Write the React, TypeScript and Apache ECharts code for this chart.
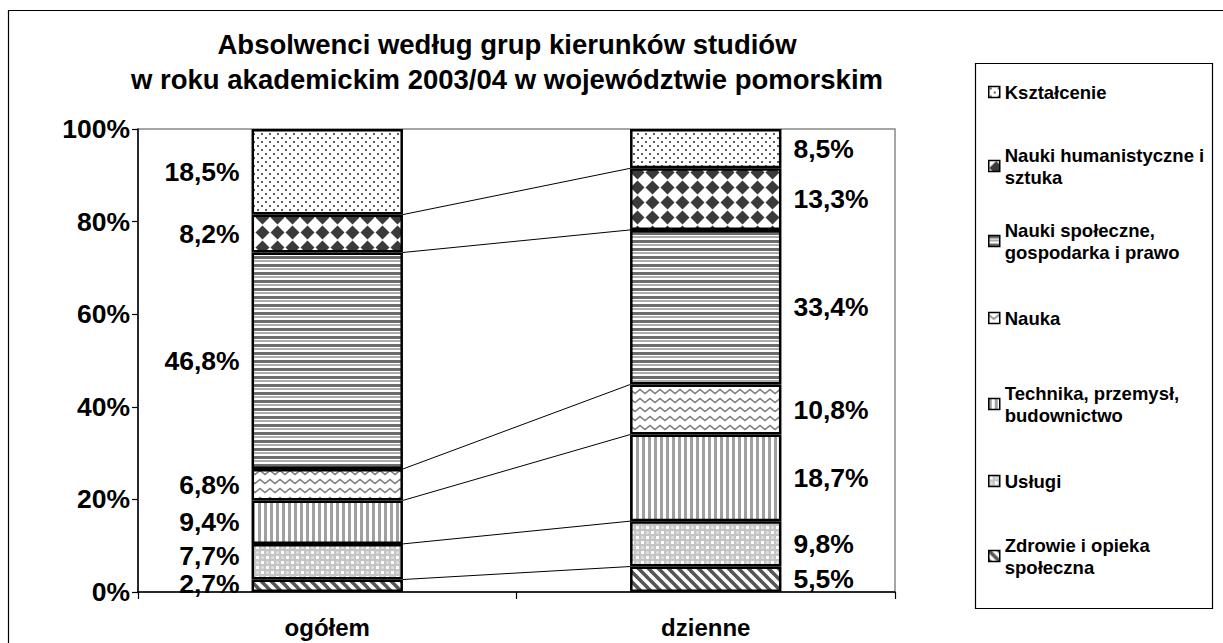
import React, { useEffect, useRef } from 'react';
import * as echarts from 'echarts';

const FONT = '"Liberation Sans", Arial, Helvetica, sans-serif';

const categories = ['ogółem', 'dzienne'];

// bottom -> top of the stack
const seriesNames = [
  'Zdrowie i opieka społeczna',
  'Usługi',
  'Technika, przemysł, budownictwo',
  'Nauka',
  'Nauki społeczne, gospodarka i prawo',
  'Nauki humanistyczne i sztuka',
  'Kształcenie',
];
const legendLabels = [
  'Zdrowie i opieka\nspołeczna',
  'Usługi',
  'Technika, przemysł,\nbudownictwo',
  'Nauka',
  'Nauki społeczne,\ngospodarka i prawo',
  'Nauki humanistyczne i\nsztuka',
  'Kształcenie',
];

const ogolemValues = [2.7, 7.7, 9.4, 6.8, 46.8, 8.2, 18.5];
const dzienneValues = [5.5, 9.8, 18.7, 10.8, 33.4, 13.3, 8.5];

const yTickValues = [0, 20, 40, 60, 80, 100];

const titleText =
  'Absolwenci według grup kierunków studiów\nw roku akademickim 2003/04 w województwie pomorskim';

function tile(w: number, h: number, draw: (ctx: CanvasRenderingContext2D) => void) {
  const c = document.createElement('canvas');
  c.width = w;
  c.height = h;
  const ctx = c.getContext('2d') as CanvasRenderingContext2D;
  ctx.fillStyle = '#ffffff';
  ctx.fillRect(0, 0, w, h);
  draw(ctx);
  return { image: c, repeat: 'repeat' } as any;
}

function makePatterns() {
  const zdrowie = tile(10, 10, (ctx) => {
    ctx.strokeStyle = '#555555';
    ctx.lineWidth = 3.6;
    for (const k of [-10, 0, 10]) {
      ctx.beginPath();
      ctx.moveTo(k - 2, -2);
      ctx.lineTo(k + 12, 12);
      ctx.stroke();
    }
  });
  const uslugi = tile(10, 10, (ctx) => {
    ctx.fillStyle = '#c4c4c4';
    ctx.fillRect(0, 0, 10, 10);
    ctx.fillStyle = '#ffffff';
    ctx.fillRect(1, 1, 3, 3);
    ctx.fillRect(6, 6, 3, 3);
    ctx.fillStyle = '#e0e0e0';
    ctx.beginPath();
    ctx.arc(7.5, 2.5, 1.6, 0, Math.PI * 2);
    ctx.fill();
    ctx.beginPath();
    ctx.arc(2.5, 7.5, 1.6, 0, Math.PI * 2);
    ctx.fill();
  });
  const technika = tile(6, 4, (ctx) => {
    ctx.fillStyle = '#a0a0a0';
    ctx.fillRect(0, 0, 3, 4);
  });
  const nauka = tile(10, 9, (ctx) => {
    ctx.strokeStyle = '#7e7e7e';
    ctx.lineWidth = 1.5;
    ctx.beginPath();
    ctx.moveTo(-5, 6.5);
    ctx.lineTo(0, 2.5);
    ctx.lineTo(5, 6.5);
    ctx.lineTo(10, 2.5);
    ctx.lineTo(15, 6.5);
    ctx.stroke();
  });
  const spoleczne = tile(4, 8, (ctx) => {
    ctx.fillStyle = '#6c6c6c';
    ctx.fillRect(0, 0, 4, 3);
    ctx.fillStyle = '#acacac';
    ctx.fillRect(0, 4, 4, 2);
  });
  const humanistyczne = tile(15, 15, (ctx) => {
    ctx.fillStyle = '#3a3a3a';
    ctx.beginPath();
    ctx.moveTo(7.5, 0.5);
    ctx.lineTo(14.5, 7.5);
    ctx.lineTo(7.5, 14.5);
    ctx.lineTo(0.5, 7.5);
    ctx.closePath();
    ctx.fill();
    ctx.fillRect(4, 4, 7, 7);
  });
  const ksztalcenie = tile(8, 8, (ctx) => {
    ctx.fillStyle = '#5e5e5e';
    ctx.fillRect(1, 1, 2, 2);
    ctx.fillRect(5, 5, 2, 2);
  });
  return [zdrowie, uslugi, technika, nauka, spoleczne, humanistyczne, ksztalcenie];
}

const BAR_RATIO = 0.4;
const fmt = (v: number) => v.toFixed(1).replace('.', ',') + '%';

export default function App() {
  const ref = useRef<HTMLDivElement>(null);

  useEffect(() => {
    if (!ref.current) return;
    const chart = echarts.init(ref.current, undefined, { renderer: 'svg' });
    const patterns = makePatterns();

    const raw = [ogolemValues, dzienneValues];
    const sums = raw.map((arr) => arr.reduce((a, b) => a + b, 0));
    const share = raw.map((arr, i) => arr.map((v) => (v / sums[i]) * 100));

    // cumulative tops for series lines
    const cum = share.map((arr) => {
      let s = 0;
      return arr.map((v) => (s += v));
    });
    const connectorData = seriesNames.slice(0, -1).map((_, i) => [0, cum[0][i], cum[1][i]]);

    const labelNudge: Record<string, number[]> = {
      '0-0': [0, -2],
      '1-0': [0, -6],
    };

    const barSeries = seriesNames.map((name, si) => ({
      name,
      type: 'bar',
      stack: 'total',
      barWidth: BAR_RATIO * 100 + '%',
      itemStyle: { color: patterns[si], borderColor: '#000', borderWidth: 2.5 },
      data: categories.map((_, ci) => ({
        value: share[ci][si],
        label: {
          show: true,
          position: ci === 0 ? 'left' : 'right',
          distance: 12,
          offset: labelNudge[si + '-' + ci] || [0, 0],
          formatter: () => fmt(raw[ci][si]),
          fontFamily: FONT,
          fontSize: 26.5,
          fontWeight: 'bold',
          color: '#000',
        },
      })),
    }));

    const connectorSeries = {
      type: 'custom',
      name: 'connectors',
      encode: { x: 0, y: 1 },
      data: connectorData,
      silent: true,
      renderItem: (params: any, api: any) => {
        const a = api.coord([0, api.value(1)]);
        const b = api.coord([1, api.value(2)]);
        const band = api.size([1, 0])[0];
        const half = (band * BAR_RATIO) / 2;
        return {
          type: 'line',
          shape: { x1: a[0] + half, y1: a[1], x2: b[0] - half, y2: b[1] },
          style: { stroke: '#000', lineWidth: 1 },
        };
      },
    };

    const legendOrder = [6, 5, 4, 3, 2, 1, 0];
    const legendCenters = [92, 166, 241, 318, 404, 481, 556];
    const LH = 22;
    const legends = legendOrder.map((si, k) => {
      const lines = legendLabels[si].split('\n').length;
      return {
        data: [seriesNames[si]],
        orient: 'vertical',
        left: 988,
        top: legendCenters[k] - LH / 2 - (lines - 1) * LH,
        padding: 0,
        icon: 'rect',
        itemWidth: 11,
        itemHeight: 11,
        selectedMode: false,
        formatter: () => legendLabels[si],
        itemStyle: { borderColor: '#000', borderWidth: 1.5 },
        textStyle: {
          fontFamily: FONT,
          fontSize: 18.5,
          fontWeight: 'bold',
          color: '#000',
          lineHeight: LH,
          padding: [(lines - 1) * LH, 0, 0, 0],
        },
      };
    });

    chart.setOption({
      animation: false,
      backgroundColor: '#ffffff',
      title: {
        text: titleText,
        left: 507,
        top: 27,
        padding: 0,
        textAlign: 'center',
        textStyle: {
          fontFamily: FONT,
          fontSize: 27.5,
          fontWeight: 'bold',
          color: '#000',
          lineHeight: 35,
        },
      },
      legend: legends,
      graphic: [
        {
          type: 'rect',
          silent: true,
          shape: { x: 8.5, y: 10.5, width: 1400, height: 800 },
          style: { fill: 'none', stroke: '#000', lineWidth: 1.2 },
          z: -10,
        },
        {
          type: 'rect',
          silent: true,
          shape: { x: 975.5, y: 63.5, width: 237, height: 545 },
          style: { fill: 'none', stroke: '#000', lineWidth: 1.2 },
          z: -10,
        },
      ],
      grid: {
        left: 138,
        top: 129,
        width: 757,
        height: 463,
        show: true,
        borderColor: '#888888',
        borderWidth: 1.5,
        backgroundColor: 'transparent',
        containLabel: false,
      },
      xAxis: {
        type: 'category',
        data: categories,
        axisLine: { show: true, lineStyle: { color: '#000', width: 1.5 } },
        axisTick: { show: true, length: 7, alignWithLabel: false, interval: 0, lineStyle: { color: '#000', width: 1.2 } },
        axisLabel: {
          margin: 23,
          fontFamily: FONT,
          fontSize: 24,
          lineHeight: 24,
          fontWeight: 'bold',
          color: '#000',
        },
        splitLine: { show: false },
      },
      yAxis: {
        type: 'value',
        min: yTickValues[0],
        max: yTickValues[yTickValues.length - 1],
        interval: yTickValues[1] - yTickValues[0],
        axisLine: { show: true, lineStyle: { color: '#000', width: 1.5 } },
        axisTick: { show: true, length: 6, lineStyle: { color: '#000', width: 1.2 } },
        axisLabel: {
          margin: 8,
          formatter: (v: number) => v + '%',
          fontFamily: FONT,
          fontSize: 26.5,
          fontWeight: 'bold',
          color: '#000',
        },
        splitLine: { show: false },
      },
      series: [...barSeries, connectorSeries],
    });

    return () => chart.dispose();
  }, []);

  return (
    <div
      ref={ref}
      style={{ position: 'absolute', left: 0, top: 0, width: 1223, height: 643, background: '#fff' }}
    />
  );
}
